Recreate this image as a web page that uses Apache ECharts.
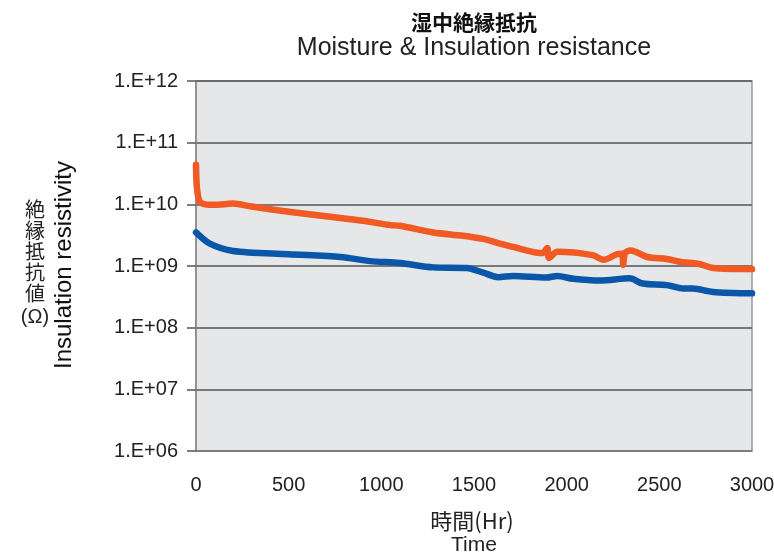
<!DOCTYPE html>
<html>
<head>
<meta charset="utf-8">
<script src="https://cdn.jsdelivr.net/npm/echarts@6/dist/echarts.min.js"></script>
<style>html,body{margin:0;padding:0;background:#fff}#c{width:774px;height:556px}</style>
</head>
<body>
<div id="c"></div>
<script>
// Hours (x) and insulation resistance values (Ω)
const orangeHours = [0, 5, 20, 50, 100, 200, 300, 500, 700, 900, 1050, 1100, 1280, 1440, 1550, 1630, 1710, 1870, 1895, 1905, 1950, 2140, 2200, 2270, 2300, 2305, 2315, 2345, 2435, 2540, 2610, 2720, 2790, 3000];
const orangeValues = [4.4e10, 1.85e10, 1.1e10, 1.0e10, 9.8e9, 1.03e10, 9.2e9, 7.6e9, 6.4e9, 5.4e9, 4.6e9, 4.5e9, 3.5e9, 3.1e9, 2.75e9, 2.35e9, 2.04e9, 1.62e9, 1.95e9, 1.35e9, 1.7e9, 1.5e9, 1.26e9, 1.55e9, 1.58e9, 1.05e9, 1.62e9, 1.78e9, 1.4e9, 1.3e9, 1.17e9, 1.07e9, 9.3e8, 8.9e8];
const blueHours = [0, 75, 200, 500, 780, 940, 1100, 1280, 1460, 1550, 1630, 1710, 1890, 1950, 2035, 2180, 2340, 2410, 2540, 2630, 2680, 2790, 3000];
const blueValues = [3.5e9, 2.3e9, 1.75e9, 1.55e9, 1.4e9, 1.2e9, 1.12e9, 9.5e8, 9.3e8, 7.8e8, 6.6e8, 6.9e8, 6.5e8, 6.9e8, 6.2e8, 5.8e8, 6.3e8, 5.2e8, 4.9e8, 4.3e8, 4.3e8, 3.8e8, 3.6e8];
const xTicks = [0, 500, 1000, 1500, 2000, 2500, 3000];
const yLabelPrefix = '1.E+';

const F = '"Liberation Sans", Arial, "Noto Sans CJK JP", sans-serif';
const FJ = '"Noto Sans CJK JP", "Liberation Sans", sans-serif';

const chart = echarts.init(document.getElementById('c'), null, {renderer: 'canvas'});
const zip = (xs, ys) => xs.map((x, i) => [x, ys[i]]);

const yChars = ['絶', '縁', '抵', '抗', '値'];
const yCharY = [209, 230, 251, 272, 293];

const graphics = [
  {type: 'text', x: 474, y: 22, style: {text: '湿中絶縁抵抗', font: 'bold 21px ' + FJ, fill: '#111', align: 'center', verticalAlign: 'middle'}},
  {type: 'text', x: 474, y: 48, style: {text: 'Moisture & Insulation resistance', font: '25px ' + F, fill: '#222', align: 'center', verticalAlign: 'middle'}},
  {type: 'text', x: 472, y: 521, style: {text: '時間(Hr)', font: '22px ' + FJ, fill: '#222', align: 'center', verticalAlign: 'middle'}},
  {type: 'text', x: 474, y: 545, style: {text: 'Time', font: '21px ' + F, fill: '#222', align: 'center', verticalAlign: 'middle'}},
  {type: 'text', x: 64, y: 265, rotation: Math.PI / 2, style: {text: 'Insulation resistivity', font: '24px ' + F, fill: '#111', align: 'center', verticalAlign: 'middle'}},
  {type: 'text', x: 35, y: 317, style: {text: '(Ω)', font: '20px ' + F, fill: '#222', align: 'center', verticalAlign: 'middle'}}
];
yChars.forEach((ch, i) => graphics.push({type: 'text', x: 35, y: yCharY[i], style: {text: ch, font: '20px ' + FJ, fill: '#222', align: 'center', verticalAlign: 'middle'}}));

const option = {
  animation: false,
  grid: {
    left: 196, right: 22, top: 81, bottom: 105,
    outerBoundsMode: 'none', containLabel: false,
    show: true, backgroundColor: '#e6e7e9', borderColor: '#9a9a9a', borderWidth: 1.5
  },
  xAxis: {
    type: 'value', min: 0, max: 3000, interval: 500,
    axisLine: {show: true, lineStyle: {color: '#8a8a8a', width: 1.5}},
    axisTick: {show: false},
    splitLine: {show: false},
    axisLabel: {color: '#222', fontSize: 20, fontFamily: F, margin: 24,
      formatter: v => xTicks.includes(v) ? String(v) : ''}
  },
  yAxis: {
    type: 'log', logBase: 10, min: 1e6, max: 1e12,
    axisLine: {show: true, lineStyle: {color: '#8a8a8a', width: 1.5}},
    axisTick: {show: true, length: 9, lineStyle: {color: '#555', width: 1.5}},
    splitLine: {show: true, lineStyle: {color: '#555', width: 1.5}},
    axisLabel: {color: '#222', fontSize: 20, fontFamily: F, margin: 18,
      formatter: v => {
        const e = Math.round(Math.log10(v));
        return yLabelPrefix + (e < 10 ? '0' + e : e);
      }}
  },
  series: [
    {
      type: 'line', data: zip(orangeHours, orangeValues), showSymbol: false, smooth: 0.3,
      lineStyle: {color: '#f15a22', width: 6.5, cap: 'round', join: 'round'}, z: 3
    },
    {
      type: 'line', data: zip(blueHours, blueValues), showSymbol: false, smooth: 0.3,
      lineStyle: {color: '#0a57aa', width: 6.5, cap: 'round', join: 'round'}, z: 3
    }
  ],
  graphic: graphics
};
chart.setOption(option);
</script>
</body>
</html>
